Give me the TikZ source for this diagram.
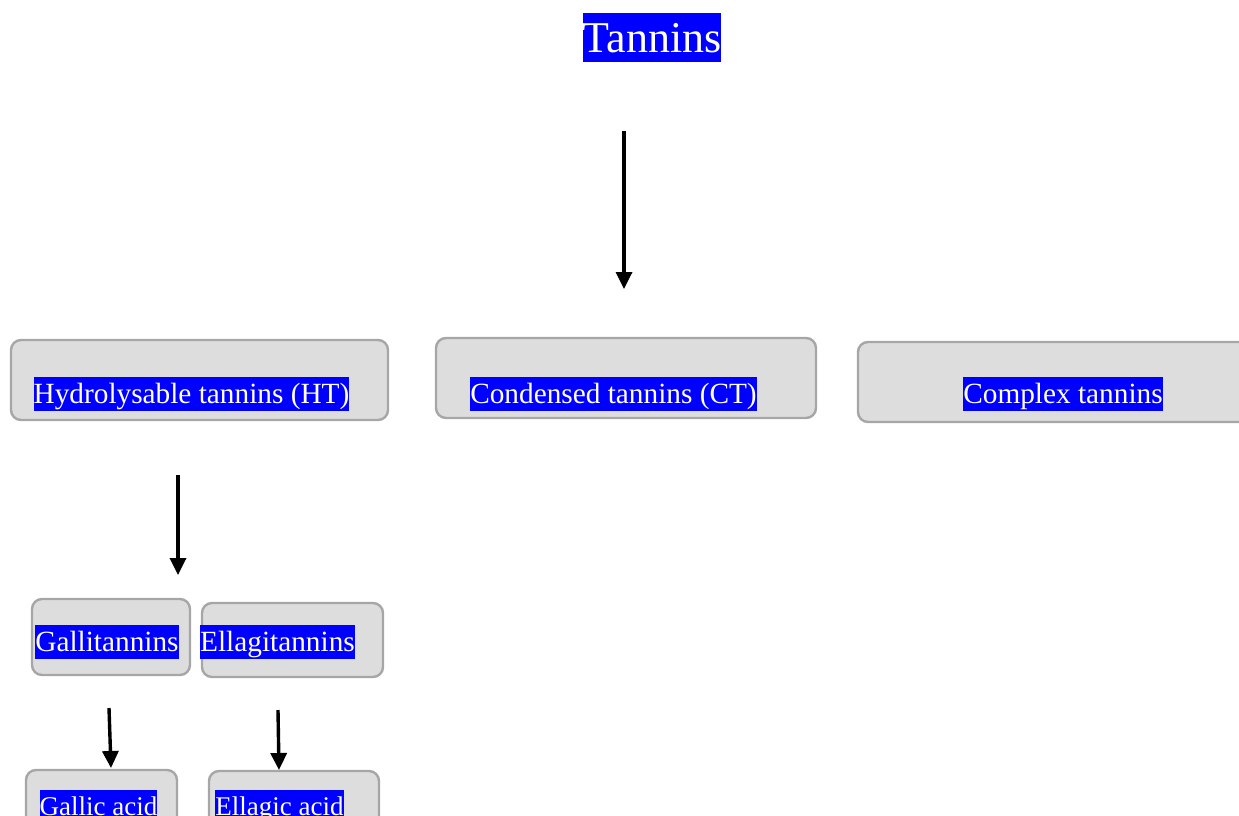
\documentclass[tikz,border=0pt]{standalone}
\usepackage{fontspec}
\setmainfont{Liberation Serif}
\usetikzlibrary{arrows.meta}
\definecolor{boxfill}{HTML}{DDDDDD}
\definecolor{boxline}{HTML}{A6A6A6}
\definecolor{hl}{HTML}{0000FF}
\tikzset{
  catbox/.style={draw=boxline, fill=boxfill, line width=2.4pt, rounded corners=10pt, minimum width=#1, inner sep=0pt},
  hltext/.style={fill=hl, text=white, inner xsep=0pt, inner ysep=1pt},
  bigf/.style={font=\fontsize{44}{50}\selectfont, text height=38.5pt, text depth=8.5pt},
  midf/.style={font=\fontsize{29.3}{34}\selectfont, text height=25.8pt, text depth=6.4pt},
  smallf/.style={font=\fontsize{27}{32}\selectfont, text height=24pt, text depth=6pt},
  flow/.style={line width=3.4pt, -{Triangle[width=16pt,length=17pt]}}
}
\begin{document}
\begin{tikzpicture}[x=1pt,y=1pt]
\useasboundingbox (0,0) rectangle (1239,-816);
\clip (0,0) rectangle (1239,-816);
% boxes
\node[catbox=377pt, minimum height=80pt] (ht) at (199.5,-380) {};
\node[catbox=380pt, minimum height=80pt] (ct) at (626,-378) {};
\node[catbox=410pt, minimum height=80pt] (cx) at (1063,-382) {};
\node[catbox=158pt, minimum height=76pt] (gt) at (111,-637) {};
\node[catbox=181pt, minimum height=74pt] (et) at (292.5,-640) {};
\node[catbox=151pt, minimum height=80pt] (ga) at (101.5,-810) {};
\node[catbox=170pt, minimum height=80pt] (ea) at (294,-811) {};
% labels
\node[hltext, bigf] (title) at (652,-37.5) {Tannins};
\node[hltext, midf] (htl) at (191.5,-394) {Hydrolysable tannins (HT)};
\node[hltext, midf] (ctl) at (613.5,-394) {Condensed tannins (CT)};
\node[hltext, midf] (cxl) at (1063,-394) {Complex tannins};
\node[hltext, midf] (gtl) at (107,-642) {Gallitannins};
\node[hltext, midf] (etl) at (277.5,-642) {Ellagitannins};
\node[hltext, smallf] (gal) at (98.5,-806) {Gallic acid};
\node[hltext, smallf] (eal) at (279.5,-806) {Ellagic acid};
% connector ends
\coordinate (a1s) at (624,-131);
\coordinate (a1e) at (624,-289);
\coordinate (a2s) at (178,-475);
\coordinate (a2e) at (178,-575);
\coordinate (a3s) at (109,-708);
\coordinate (a3e) at (111,-768);
\coordinate (a4s) at (278,-710);
\coordinate (a4e) at (279,-770);
\draw[flow] (a1s) -- (a1e);
\draw[flow] (a2s) -- (a2e);
\draw[flow] (a3s) -- (a3e);
\draw[flow] (a4s) -- (a4e);
\end{tikzpicture}
\end{document}
